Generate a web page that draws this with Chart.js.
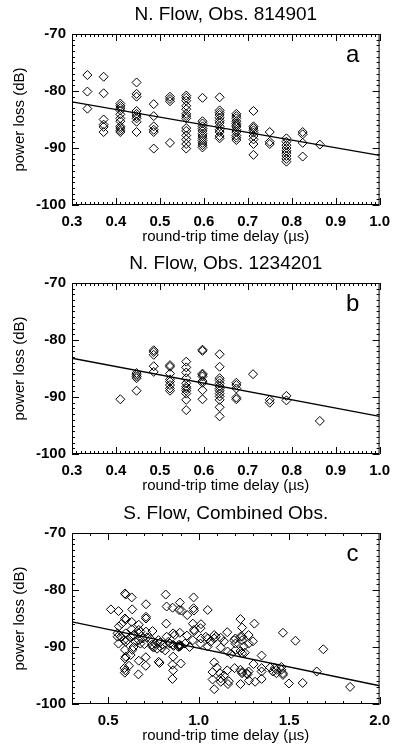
<!DOCTYPE html>
<html><head><meta charset="utf-8">
<script src="https://cdn.jsdelivr.net/npm/chart.js@4.4.1/dist/chart.umd.min.js"></script>
<style>
html,body{margin:0;padding:0;background:#fff;width:398px;height:745px;overflow:hidden;position:relative}
.p{position:absolute;left:0;width:398px;height:248px}
</style></head><body>
<div class="p" style="top:0"><canvas id="ca"></canvas></div>
<div class="p" style="top:249px"><canvas id="cb"></canvas></div>
<div class="p" style="top:499px"><canvas id="cc"></canvas></div>
<script>
// ---------- data ----------
const titles = ['N. Flow, Obs. 814901', 'N. Flow, Obs. 1234201', 'S. Flow, Combined Obs.'];
const panelLetters = ['a', 'b', 'c'];
const xAxisTitle = 'round-trip time delay (\u00b5s)';
const yAxisTitle = 'power loss (dB)';
const yTicks = [-100, -90, -80, -70];
const xTicksAB = [0.3, 0.4, 0.5, 0.6, 0.7, 0.8, 0.9, 1.0];
const xTicksC = [0.5, 1.0, 1.5, 2.0];

const aDelays = [0.335, 0.372, 0.410, 0.447, 0.486, 0.523, 0.560, 0.597, 0.636, 0.674, 0.713, 0.750, 0.788, 0.825, 0.864];
const aLosses = [
  [-77.2, -80.1, -83.1],
  [-77.5, -80.4, -85.0, -85.9, -86.3, -87.2],
  [-82.2, -82.6, -83.0, -83.4, -84.1, -84.8, -85.3, -86.2, -86.5, -86.9, -87.2],
  [-78.5, -80.5, -81.0, -83.5, -84.0, -84.4, -84.8, -85.4, -87.2],
  [-82.3, -84.4, -86.2, -86.8, -87.2, -90.1],
  [-81.0, -81.4, -81.8, -89.1],
  [-80.8, -81.2, -81.7, -82.6, -83.2, -84.0, -84.4, -84.8, -86.5, -87.0, -87.8, -88.5, -89.3, -90.1],
  [-81.2, -85.3, -85.7, -86.2, -86.6, -87.0, -87.5, -87.9, -88.3, -88.7, -89.1, -89.5, -89.9],
  [-81.1, -83.4, -83.8, -84.2, -84.7, -85.2, -85.6, -86.2, -86.8, -87.2, -87.9, -88.3],
  [-84.0, -84.4, -84.8, -85.3, -85.7, -86.0, -86.3, -86.8, -87.2, -87.8, -88.2, -88.6],
  [-83.5, -86.2, -86.5, -86.9, -87.3, -87.9, -88.5, -89.3, -91.2],
  [-87.2, -88.9, -89.3],
  [-88.3, -88.9, -89.5, -90.0, -90.5, -90.9, -91.4, -91.9, -92.4],
  [-87.2, -87.6, -89.1, -91.5],
  [-89.4]
];
const aFitX = [0.3, 1.0];
const aFitY = [-81.9, -91.3];

const bDelays = [0.410, 0.447, 0.486, 0.523, 0.560, 0.597, 0.636, 0.674, 0.712, 0.750, 0.788, 0.864];
const bLosses = [
  [-90.4],
  [-85.8, -86.1, -86.4, -86.7, -88.9],
  [-81.8, -82.1, -82.6, -84.6, -85.6],
  [-84.4, -84.7, -85.9, -86.9, -87.3, -87.9, -88.5, -88.9],
  [-83.8, -84.8, -85.7, -86.7, -87.6, -88.2, -88.5, -88.9, -89.4, -90.5, -92.3],
  [-81.7, -81.9, -85.9, -86.1, -86.4, -87.2, -87.5, -88.8, -90.4],
  [-82.5, -84.7, -86.7, -87.1, -87.6, -88.1, -88.5, -88.9, -89.4, -89.9, -90.5, -91.8, -93.4],
  [-87.5, -87.9, -88.5, -90.1, -90.4],
  [-86.0],
  [-90.5, -91.0],
  [-89.8, -90.6],
  [-94.2]
];
const bFitX = [0.3, 1.0];
const bFitY = [-83.2, -93.4];

const cDelays = [
  0.593, 0.597, 0.630, 0.515, 0.557, 0.633, 0.709, 0.818, 0.823, 0.856, 0.892, 0.896, 0.905, 0.937, 0.972, 0.972, 0.974, 1.050,
  0.593, 0.597, 0.709, 0.709, 0.630, 0.669, 0.559, 0.821, 0.968, 1.013, 0.974, 0.976, 1.010, 1.231, 1.240, 1.308, 1.466, 1.535, 1.689,
  0.552, 0.552, 0.570, 0.557, 0.588, 0.597, 0.597, 0.624, 0.651, 0.669, 0.669, 0.669, 0.678, 0.678, 0.709, 0.715, 0.745,
  0.742, 0.745, 0.751, 0.760, 0.778, 0.787, 0.796, 0.805, 0.823, 0.832, 0.841, 0.859, 0.868, 0.859, 0.862, 0.887, 0.890, 0.892,
  0.896, 0.896, 0.900, 0.925, 0.968, 1.010, 1.013, 1.040, 1.050, 1.050, 1.086, 1.086, 1.095, 1.122, 1.122, 1.158, 1.160,
  1.196, 1.203, 1.203, 1.203, 1.231, 1.240, 1.240, 1.249, 1.276, 1.276, 1.231, 1.240, 1.348,
  0.593, 0.633, 0.597, 0.593, 0.624, 0.669, 0.708, 0.708, 0.590, 0.595, 0.592, 0.667, 0.784, 0.779, 0.855, 0.859, 0.859, 0.855,
  0.901, 1.086, 1.077, 1.118, 1.077, 1.086, 1.122, 1.122, 1.167, 1.162, 1.158, 1.199, 1.231, 1.240, 1.240, 1.231, 1.267, 1.270,
  1.276, 1.278, 1.303, 1.312, 1.348, 1.348, 1.348, 1.421, 1.430, 1.430, 1.457, 1.457, 1.466, 1.466, 1.499, 1.575, 1.653, 1.837,
  0.630, 0.640, 0.690, 0.700, 0.735, 0.770, 0.815, 0.935, 0.950, 1.065, 1.140, 1.180, 1.255, 1.300, 1.395, 1.410, 1.100, 1.140,
  0.615, 0.640, 0.575, 0.606
];
const cLosses = [
  -80.6, -80.8, -81.3, -83.4, -83.7, -83.4, -82.5, -80.8, -82.9, -83.1, -83.5, -82.2, -83.6, -84.4, -81.3, -83.2, -83.6, -83.5,
  -85.0, -85.2, -84.7, -85.0, -85.6, -86.1, -86.4, -85.9, -85.9, -86.0, -87.0, -87.2, -86.7, -85.1, -86.6, -85.9, -87.5, -88.9, -90.4,
  -87.6, -88.2, -88.2, -89.4, -88.8, -89.1, -87.6, -88.2, -89.1, -87.0, -87.6, -88.8, -87.3, -89.4, -87.3, -88.3, -87.2,
  -89.6, -89.9, -90.1, -89.4, -88.8, -89.2, -90.2, -89.6, -88.2, -89.1, -89.4, -87.6, -87.9, -89.6, -89.8, -89.9, -90.0, -89.6,
  -87.5, -89.9, -89.7, -89.4, -88.8, -89.4, -88.5, -88.2, -88.5, -89.9, -87.9, -88.5, -88.2, -88.4, -90.1, -87.4, -90.8,
  -88.8, -88.5, -89.4, -90.5, -88.2, -88.2, -88.8, -89.9, -87.9, -89.4, -90.7, -91.1, -91.5,
  -90.5, -90.5, -91.7, -92.0, -91.4, -92.4, -91.8, -93.3, -93.7, -94.1, -94.5, -94.8, -92.8, -92.6, -93.1, -91.7, -94.1, -95.6,
  -92.9, -92.7, -94.4, -94.6, -95.7, -97.4, -95.5, -96.1, -96.0, -96.5, -94.1, -93.7, -94.0, -94.4, -94.6, -96.5, -94.6, -94.8,
  -94.3, -95.9, -93.0, -96.1, -93.7, -94.3, -95.6, -93.7, -94.0, -94.6, -93.5, -94.0, -94.6, -94.9, -96.4, -96.3, -94.3, -97.0,
  -86.9, -87.9, -88.5, -89.5, -88.6, -90.3, -90.6, -88.0, -90.0, -89.1, -89.0, -91.2, -91.0, -89.0, -93.6, -94.3, -93.6, -95.0,
  -93.3, -90.0, -85.9, -88.8
];
const cFitX = [0.3, 2.0];
const cFitY = [-85.6, -96.8];

// ---------- drawing ----------
Chart.defaults.font.family = "'Liberation Sans', Arial, Helvetica, sans-serif";
Chart.defaults.color = '#000';

const framePlugin = {
  id: 'frame',
  afterDatasetsDraw(chart, args, opts) {
    const {ctx, chartArea: ca, scales: {x, y}} = chart;
    ctx.save();
    ctx.strokeStyle = '#000';
    ctx.lineWidth = 1;
    ctx.strokeRect(ca.left + 0.5, ca.top + 0.5, ca.width - 1, ca.height - 1);
    ctx.beginPath();
    const nx = Math.round((x.max - x.min) / opts.xMinor);
    for (let i = 0; i <= nx; i++) {
      const v = x.min + i * opts.xMinor;
      const major = opts.xMajor.some(t => Math.abs(t - v) < 1e-6);
      const L = major ? 7 : 3;
      const px = Math.round(x.getPixelForValue(v)) + 0.5;
      ctx.moveTo(px, ca.bottom); ctx.lineTo(px, ca.bottom - L);
      ctx.moveTo(px, ca.top); ctx.lineTo(px, ca.top + L);
    }
    const ny = Math.round((y.max - y.min) / opts.yMinor);
    for (let i = 0; i <= ny; i++) {
      const v = y.min + i * opts.yMinor;
      const major = yTicks.some(t => Math.abs(t - v) < 1e-6);
      const L = major ? 7 : 3;
      const py = Math.round(y.getPixelForValue(v)) + 0.5;
      ctx.moveTo(ca.left, py); ctx.lineTo(ca.left + L, py);
      ctx.moveTo(ca.right, py); ctx.lineTo(ca.right - L, py);
    }
    ctx.stroke();
    ctx.fillStyle = '#000';
    ctx.font = "24px 'Liberation Sans', Arial, sans-serif";
    ctx.textAlign = 'center';
    ctx.textBaseline = 'alphabetic';
    ctx.fillText(opts.letter, ca.right - 27, ca.top + 28);
    ctx.restore();
  }
};

function makePanel(id, title, letter, points, fit, xMin, xMax, xTicks, xMinor) {
  new Chart(document.getElementById(id), {
    type: 'scatter',
    data: {
      datasets: [
        {
          data: points,
          pointStyle: 'rectRot',
          pointRadius: 4.5,
          pointBorderWidth: 1,
          borderColor: '#000',
          backgroundColor: 'rgba(0,0,0,0)',
          pointHoverRadius: 4.5
        },
        {
          data: fit,
          showLine: true,
          borderColor: '#000',
          borderWidth: 1.3,
          pointRadius: 0,
          fill: false
        }
      ]
    },
    options: {
      responsive: true,
      maintainAspectRatio: false,
      animation: false,
      events: [],
      layout: {padding: {left: 0, right: 13, top: 0, bottom: 0}},
      plugins: {
        legend: {display: false},
        tooltip: {enabled: false},
        title: {
          display: true,
          fullSize: false,
          text: title,
          color: '#000',
          font: {size: 19, weight: 'normal'},
          padding: {top: 3.5, bottom: 7.7}
        },
        frame: {letter: letter, xMajor: xTicks, xMinor: xMinor, yMinor: 1}
      },
      scales: {
        x: {
          type: 'linear',
          min: xMin,
          max: xMax,
          grid: {display: false, drawTicks: false},
          border: {display: false},
          afterBuildTicks: s => { s.ticks = xTicks.map(v => ({value: v})); },
          afterFit: s => { s.height = 43; },
          ticks: {
            padding: 8,
            maxRotation: 0,
            autoSkip: false,
            color: '#000',
            font: {size: 15, weight: 'bold'},
            callback: v => Number(v).toFixed(1)
          },
          title: {
            display: true,
            text: xAxisTitle,
            color: '#000',
            font: {size: 15, weight: 'normal'},
            padding: {top: 0, bottom: 2}
          }
        },
        y: {
          type: 'linear',
          min: -100,
          max: -70,
          grid: {display: false, drawTicks: false},
          border: {display: false},
          afterBuildTicks: s => { s.ticks = yTicks.map(v => ({value: v})); },
          afterFit: s => { s.width = 72; },
          ticks: {
            padding: 6,
            color: '#000',
            font: {size: 15, weight: 'bold'},
            callback: v => String(v)
          },
          title: {
            display: true,
            text: yAxisTitle,
            color: '#000',
            font: {size: 15, weight: 'normal'},
            padding: {top: 11, bottom: 0}
          }
        }
      }
    },
    plugins: [framePlugin]
  });
}

const colPoints = (delays, losses) => delays.flatMap((d, i) => losses[i].map(l => ({x: d, y: l})));
const pairPoints = (xs, ys) => xs.map((v, i) => ({x: v, y: ys[i]}));

makePanel('ca', titles[0], panelLetters[0], colPoints(aDelays, aLosses), pairPoints(aFitX, aFitY), 0.3, 1.0, xTicksAB, 0.01);
makePanel('cb', titles[1], panelLetters[1], colPoints(bDelays, bLosses), pairPoints(bFitX, bFitY), 0.3, 1.0, xTicksAB, 0.01);
makePanel('cc', titles[2], panelLetters[2], pairPoints(cDelays, cLosses), pairPoints(cFitX, cFitY), 0.3, 2.0, xTicksC, 0.1);
</script>
</body></html>
